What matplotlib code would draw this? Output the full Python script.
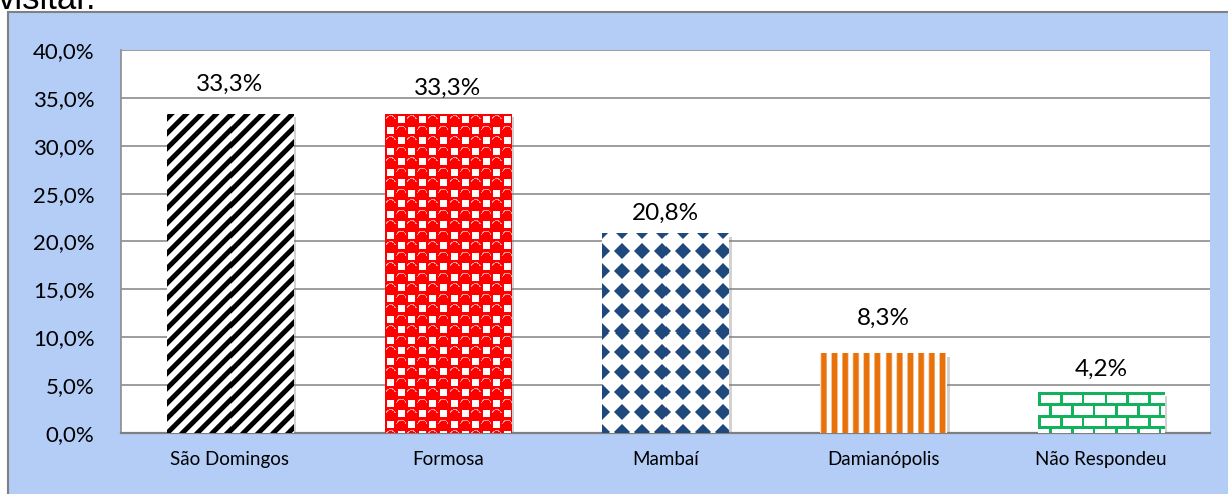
import numpy as np
import matplotlib
matplotlib.use("Agg")
import matplotlib.pyplot as plt
from matplotlib.patches import Rectangle
import matplotlib.patheffects as pe

# ---------------- data ----------------
categories = ["São Domingos", "Formosa", "Mambaí", "Damianópolis", "Não Respondeu"]
values = [33.3, 33.3, 20.8, 8.3, 4.2]
yticks = [0, 5, 10, 15, 20, 25, 30, 35, 40]

# ---------------- layout / style ----------------
W, H, DPI = 1228, 494, 100
label_offsets_pt = [14, 11, 7, 18, 9]   # value label offsets above bars (points)
FONT = "Lato"

fig = plt.figure(figsize=(W / DPI, H / DPI), dpi=DPI)
fig.patch.set_facecolor("white")

# blue chart-area box (extends past right / bottom edges)
box = Rectangle((8 / W, -0.05), 1.1, 1 - 12 / H + 0.05, transform=fig.transFigure,
                facecolor="#b3cdf7", edgecolor="#808080", linewidth=1.5, zorder=-10)
fig.patches.append(box)

# cut-off title fragment at the top
fig.text(-2 / W, 1 - 9 / H, "visitar.", fontsize=25, family="Liberation Sans",
         va="baseline", ha="left", color="black")

left, right, top, bottom = 121 / W, 1210 / W, 1 - 50 / H, 1 - 433 / H
ax = fig.add_axes([left, bottom, right - left, top - bottom])
ax.set_zorder(1)
ax.set_facecolor("white")
ax.set_xlim(-0.5, len(categories) - 0.5)
ax.set_ylim(0, 40)
ax.set_yticks(yticks)
ax.set_yticklabels([f"{t:.1f}%".replace(".", ",") for t in yticks], fontsize=16, family=FONT)
ax.set_xticks(range(len(categories)))
ax.set_xticklabels(categories, fontsize=13.5, family=FONT)
ax.tick_params(axis="y", length=0, pad=19)
ax.tick_params(axis="x", length=0, pad=13)
ax.set_axisbelow(True)
ax.yaxis.grid(True, color="#8c8c8c", linewidth=1.2)
for s in ["top", "right"]:
    ax.spines[s].set_visible(False)
ax.spines["left"].set_color("#8c8c8c")
ax.spines["left"].set_linewidth(1.2)
ax.spines["bottom"].set_color("#7f7f7f")
ax.spines["bottom"].set_linewidth(1.6)

bar_w = 0.58
bars = ax.bar(range(len(categories)), values, width=bar_w, color="white", zorder=2,
              linewidth=0)
for b in bars:
    b.set_path_effects([pe.SimplePatchShadow(offset=(2.2, -2.2), shadow_rgbFace="#7f7f7f",
                                             alpha=0.35), pe.Normal()])


# ---------------- textures ----------------
def smoothstep(a):
    return np.clip(a, 0, 1)


def tex_stripes(h, w):
    r, x = np.mgrid[0:h, 0:w].astype(float)
    P = 15.0
    phase = ((x + r) / P) % 1.0
    d = np.minimum(np.abs(phase - 0.22), 1 - np.abs(phase - 0.22))
    blk = smoothstep((0.23 - d) * P / 1.5 + 0.5)
    v = 1 - blk
    return np.dstack([v, v, v])


def tex_red(h, w):
    r, x = np.mgrid[0:h, 0:w].astype(float)
    c = 10.5
    i = np.floor(x / c); j = np.floor(r / c)
    fx = x / c - i; fy = r / c - j
    img = np.zeros((h, w, 3)); img[..., 0] = 1.0
    white_cell = ((i + j) % 2) == 1
    sq = (np.abs(fx - 0.5) < 0.34) & (np.abs(fy - 0.5) < 0.34) & white_cell
    img[sq] = [1, 1, 1]
    # light rim at the top of each red ball
    rr = np.hypot(fx - 0.5, fy - 0.55)
    hl = (~white_cell) & (rr > 0.38) & (rr < 0.5) & (fy < 0.45)
    img[hl] = [1, 0.6, 0.6]
    return img


def tex_diamonds(h, w):
    r, x = np.mgrid[0:h, 0:w].astype(float)
    P = 20.0
    dx = ((x - 10) % P) - P / 2 + 0.5
    dy = ((r - 8) % P) - P / 2 + 0.5
    dist = np.abs(dx) + np.abs(dy)
    a = smoothstep((8.8 - dist) / 1.5)
    blue = np.array([31, 73, 125]) / 255
    img = np.ones((h, w, 3)) * (1 - a[..., None]) + blue * a[..., None]
    return img


def tex_orange(h, w):
    r, x = np.mgrid[0:h, 0:w].astype(float)
    P = 10.7
    phase = ((x + 2) / P) % 1.0
    d = np.minimum(np.abs(phase - 0.5), 1 - np.abs(phase - 0.5))
    a = smoothstep((0.27 - d) * P / 1.6 + 0.5)
    orange = np.array([232, 113, 10]) / 255
    img = np.ones((h, w, 3)) * (1 - a[..., None]) + orange * a[..., None]
    return img


def tex_bricks(h, w):
    r, x = np.mgrid[0:h, 0:w].astype(float)
    bh, bw, t = 11.0, 21.7, 2.6
    row = np.floor(r / bh)
    xo = x + (row % 2) * bw / 2
    ry = r % bh
    rx = xo % bw
    line = (ry < t) | (rx < t)
    green = np.array([18, 178, 92]) / 255
    img = np.ones((h, w, 3))
    img[line] = green
    return img


textures = [tex_stripes, tex_red, tex_diamonds, tex_orange, tex_bricks]

for b, tex in zip(bars, textures):
    x0, y0 = b.get_x(), b.get_y()
    x1, y1 = x0 + b.get_width(), y0 + b.get_height()
    p0 = ax.transData.transform((x0, y0))
    p1 = ax.transData.transform((x1, y1))
    wpx = max(1, int(round(p1[0] - p0[0])))
    hpx = max(1, int(round(p1[1] - p0[1])))
    img = tex(hpx, wpx)
    ax.imshow(img, extent=(x0, x1, y0, y1), origin="upper", aspect="auto",
              interpolation="nearest", zorder=3)

ax.set_xlim(-0.5, len(categories) - 0.5)
ax.set_ylim(0, 40)

for i, (v, off) in enumerate(zip(values, label_offsets_pt)):
    ax.annotate(f"{v:.1f}%".replace(".", ","), (i, v), xytext=(0, off),
                textcoords="offset points", ha="center", va="bottom",
                fontsize=17.5, family=FONT, color="black")

fig.savefig("out.png", dpi=DPI)
